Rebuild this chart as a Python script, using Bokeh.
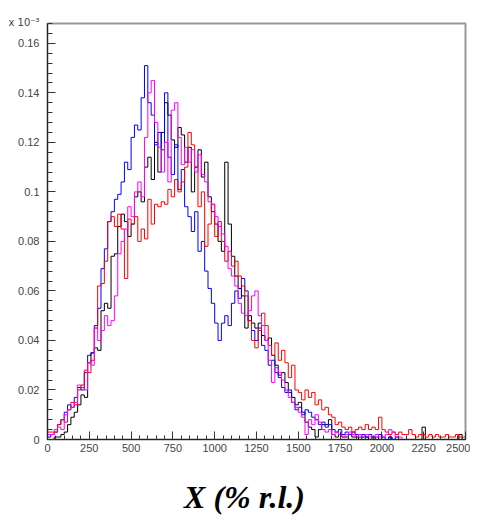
import numpy as np
from bokeh.plotting import figure
from bokeh.models import Range1d, FixedTicker, CustomJSTickFormatter, Title
from bokeh.embed import file_html
from bokeh.resources import INLINE

# ---- data (values in units of 1e-3), bins of 20 (% r.l.) from 0 to 2500 ----
bin_width = 20
x_ticks = [0, 250, 500, 750, 1000, 1250, 1500, 1750, 2000, 2250, 2500]
y_ticks = [0, 0.02, 0.04, 0.06, 0.08, 0.1, 0.12, 0.14, 0.16]

black = [0.0, 0.0, 0.001, 0.001, 0.002, 0.003, 0.006, 0.009, 0.011, 0.014,
         0.018, 0.017, 0.031, 0.035, 0.037, 0.036, 0.052, 0.055, 0.053, 0.074,
         0.075, 0.086, 0.091, 0.088, 0.082, 0.087, 0.098, 0.100, 0.096, 0.110,
         0.114, 0.105, 0.120, 0.108, 0.124, 0.136, 0.131, 0.121, 0.118, 0.126,
         0.123, 0.112, 0.118, 0.100, 0.110, 0.117, 0.106, 0.112, 0.098, 0.092,
         0.087, 0.080, 0.076, 0.112, 0.087, 0.074, 0.066, 0.061, 0.058, 0.045,
         0.050, 0.047, 0.045, 0.047, 0.042, 0.040, 0.041, 0.034, 0.030, 0.026,
         0.027, 0.023, 0.019, 0.017, 0.014, 0.015, 0.011, 0.007, 0.005, 0.004,
         0.001, 0.004, 0.006, 0.006, 0.008, 0.002, 0.001, 0.002, 0.001, 0.001,
         0.002, 0.001, 0.001, 0.0, 0.001, 0.001, 0.0, 0.001, 0.0, 0.002,
         0.0, 0.0, 0.001, 0.0, 0.0, 0.0, 0.0, 0.0, 0.0, 0.0,
         0.0, 0.0, 0.005, 0.0, 0.0, 0.0, 0.0, 0.0, 0.0, 0.0,
         0.0, 0.0, 0.0, 0.002, 0.0]

blue = [0.001, 0.002, 0.003, 0.006, 0.008, 0.011, 0.014, 0.013, 0.017, 0.021,
        0.020, 0.027, 0.034, 0.035, 0.046, 0.053, 0.069, 0.077, 0.088, 0.092,
        0.097, 0.099, 0.104, 0.112, 0.109, 0.122, 0.127, 0.125, 0.138, 0.151,
        0.136, 0.131, 0.119, 0.124, 0.117, 0.140, 0.114, 0.107, 0.119, 0.101,
        0.109, 0.094, 0.090, 0.084, 0.092, 0.076, 0.080, 0.068, 0.061, 0.055,
        0.047, 0.040, 0.047, 0.050, 0.046, 0.055, 0.060, 0.057, 0.065, 0.060,
        0.048, 0.044, 0.040, 0.045, 0.038, 0.036, 0.030, 0.032, 0.027, 0.025,
        0.021, 0.019, 0.020, 0.015, 0.012, 0.013, 0.010, 0.012, 0.011, 0.009,
        0.008, 0.006, 0.007, 0.005, 0.006, 0.004, 0.003, 0.004, 0.002, 0.003,
        0.002, 0.003, 0.002, 0.001, 0.002, 0.001, 0.002, 0.001, 0.001, 0.002,
        0.001, 0.0, 0.001, 0.0, 0.001, 0.0, 0.0, 0.0, 0.0, 0.0,
        0.0, 0.0, 0.0, 0.0, 0.0, 0.0, 0.0, 0.0, 0.0, 0.0,
        0.0, 0.0, 0.0, 0.0, 0.0]

red = [0.003, 0.003, 0.003, 0.006, 0.008, 0.007, 0.012, 0.015, 0.014, 0.020,
       0.022, 0.028, 0.027, 0.032, 0.045, 0.062, 0.063, 0.072, 0.088, 0.090,
       0.086, 0.091, 0.085, 0.065, 0.089, 0.087, 0.090, 0.080, 0.085, 0.081,
       0.097, 0.087, 0.095, 0.094, 0.096, 0.095, 0.101, 0.098, 0.105, 0.100,
       0.104, 0.110, 0.124, 0.119, 0.110, 0.094, 0.100, 0.078, 0.087, 0.095,
       0.082, 0.088, 0.080, 0.072, 0.076, 0.070, 0.072, 0.066, 0.062, 0.058,
       0.048, 0.040, 0.037, 0.044, 0.051, 0.046, 0.038, 0.034, 0.039, 0.032,
       0.036, 0.031, 0.025, 0.030, 0.020, 0.019, 0.016, 0.020, 0.017, 0.019,
       0.014, 0.016, 0.012, 0.013, 0.010, 0.009, 0.006, 0.007, 0.005, 0.004,
       0.005, 0.003, 0.004, 0.005, 0.004, 0.006, 0.004, 0.005, 0.004, 0.009,
       0.004, 0.003, 0.002, 0.003, 0.002, 0.003, 0.002, 0.002, 0.004, 0.002,
       0.001, 0.002, 0.002, 0.001, 0.002, 0.001, 0.002, 0.001, 0.001, 0.002,
       0.001, 0.001, 0.002, 0.001, 0.001]

magenta = [0.002, 0.002, 0.004, 0.005, 0.004, 0.010, 0.012, 0.013, 0.015, 0.022,
           0.021, 0.020, 0.031, 0.030, 0.045, 0.040, 0.044, 0.050, 0.046, 0.048,
           0.058, 0.075, 0.080, 0.085, 0.094, 0.090, 0.100, 0.104, 0.098, 0.122,
           0.140, 0.145, 0.128, 0.118, 0.108, 0.120, 0.104, 0.133, 0.136, 0.122,
           0.111, 0.118, 0.112, 0.117, 0.108, 0.115, 0.107, 0.104, 0.096, 0.095,
           0.090, 0.086, 0.083, 0.078, 0.069, 0.066, 0.062, 0.055, 0.051, 0.050,
           0.052, 0.058, 0.060, 0.050, 0.046, 0.040, 0.032, 0.023, 0.029, 0.027,
           0.024, 0.020, 0.017, 0.015, 0.013, 0.011, 0.009, 0.002, 0.008, 0.006,
           0.010, 0.007, 0.004, 0.003, 0.004, 0.002, 0.003, 0.002, 0.001, 0.002,
           0.003, 0.002, 0.001, 0.002, 0.001, 0.002, 0.001, 0.001, 0.002, 0.001,
           0.001, 0.002, 0.004, 0.003, 0.001, 0.001, 0.0, 0.0, 0.0, 0.0,
           0.0, 0.0, 0.0, 0.0, 0.0, 0.0, 0.0, 0.0, 0.0, 0.0,
           0.0, 0.0, 0.0, 0.0, 0.0]

series = [(black, "#000000"), (blue, "#0000ff"), (red, "#ff0000"), (magenta, "#ff00ff")]

# ---- figure ----
p = figure(width=470, height=517, output_backend="svg", toolbar_location=None,
           x_range=Range1d(0, 2500), y_range=Range1d(0, 0.168),
           min_border_left=47, min_border_right=5, min_border_top=23, min_border_bottom=72)
p.xgrid.visible = False
p.ygrid.visible = False
p.background_fill_color = "white"
p.border_fill_color = "white"
p.outline_line_color = "#999999"
p.outline_line_width = 2

edges = np.arange(0, 2500 + bin_width, bin_width)
for vals, col in series:
    v = np.asarray(vals, dtype=float)
    ys = np.concatenate([[0.0], v, [0.0]])
    xs = np.concatenate([[edges[0]], edges])
    p.step(xs, ys, mode="after", line_color=col, line_width=1)

# axes styling
for ax in (p.xaxis[0], p.yaxis[0]):
    ax.axis_line_color = "#222222"
    ax.major_tick_line_color = "#333333"
    ax.minor_tick_line_color = "#333333"
    ax.major_tick_out = 0
    ax.minor_tick_out = 0
    ax.major_label_text_font = "Liberation Sans"
    ax.major_label_text_font_size = "11px"
    ax.major_label_text_color = "#444444"

p.xaxis.ticker = FixedTicker(ticks=x_ticks, minor_ticks=list(range(0, 2501, 50)))
p.xaxis.major_tick_in = 8
p.xaxis.minor_tick_in = 4
p.xaxis.major_label_standoff = 4

p.yaxis.ticker = FixedTicker(ticks=y_ticks,
                             minor_ticks=[round(0.004 * i, 3) for i in range(0, 43)])
p.yaxis.major_tick_in = 8
p.yaxis.minor_tick_in = 5
p.yaxis.major_label_standoff = 8
p.yaxis.formatter = CustomJSTickFormatter(
    code="return tick.toFixed(2).replace(/\\.?0+$/, '');")

# x axis title
p.xaxis.axis_label = "X (% r.l.)\u00a0\u00a0\u00a0"
p.xaxis.axis_label_text_font = "Liberation Serif"
p.xaxis.axis_label_text_font_style = "bold italic"
p.xaxis.axis_label_text_font_size = "32px"
p.xaxis.axis_label_text_color = "black"
p.xaxis.axis_label_standoff = 24

# exponent label at top-left
p.add_layout(Title(text="x 10\u207b\u00b3", align="left", offset=-39, standoff=-8,
                   text_font="DejaVu Sans", text_font_style="normal",
                   text_font_size="10px", text_color="#444444"), "above")

open("out.html", "w").write(file_html(p, INLINE))
